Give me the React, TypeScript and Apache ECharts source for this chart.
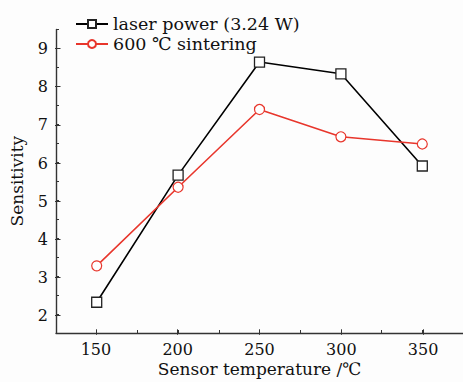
import React, { useEffect, useRef } from "react";
import * as echarts from "echarts";

const temperatures = [150, 200, 250, 300, 350];
const laserPower = [2.31, 5.66, 8.64, 8.33, 5.9];
const sintering600 = [3.27, 5.34, 7.39, 6.67, 6.48];
const seriesNames = ["laser power (3.24 W)", "600 ℃ sintering"];
const xTickLabels = [150, 200, 250, 300, 350];
const yTickLabels = [2, 3, 4, 5, 6, 7, 8, 9];

const FONT = "DejaVu Serif";
const RED = "#e8362c";
const AXIS = "#333";

// outer frame: x 125..375, y 1.5..9.5
const G1 = { left: 55, top: 29.4, width: 409, height: 305.4 };
const PX_X = G1.width / 250;
const PX_Y = G1.height / 8;
// inner frame: x 150..350, y 2..9 (carries the major ticks and labels)
const G2 = {
  left: G1.left + 25 * PX_X,
  top: G1.top + 0.5 * PX_Y,
  width: 200 * PX_X,
  height: 7 * PX_Y,
};

export default function App() {
  const ref = useRef<HTMLDivElement>(null);
  useEffect(() => {
    if (!ref.current) return;
    const chart = echarts.init(ref.current, undefined, { renderer: "svg" });
    const toPairs = (ys: number[]) => temperatures.map((t, i) => [t, ys[i]]);
    chart.setOption({
      animation: false,
      backgroundColor: "#fdfdfd",
      textStyle: { fontFamily: FONT },
      grid: [
        { ...G1, containLabel: false },
        { ...G2, containLabel: false },
      ],
      legend: {
        left: 70,
        top: 9,
        orient: "vertical",
        itemGap: 0,
        itemWidth: 32,
        itemHeight: 10,
        textStyle: { fontFamily: FONT, fontSize: 17.5, color: "#111", lineHeight: 20 },
        data: seriesNames,
      },
      xAxis: [
        {
          type: "value",
          gridIndex: 0,
          min: 125,
          max: 375,
          interval: 25,
          name: "Sensor temperature /℃",
          nameLocation: "middle",
          nameGap: 27,
          nameTextStyle: { fontFamily: FONT, fontSize: 17, color: "#111" },
          axisLine: { lineStyle: { color: AXIS, width: 1.4 } },
          axisTick: { inside: true, length: 3, lineStyle: { color: AXIS } },
          axisLabel: { show: false },
          splitLine: { show: false },
        },
        {
          type: "value",
          gridIndex: 1,
          min: 150,
          max: 350,
          interval: 50,
          position: "bottom",
          offset: G1.top + G1.height - (G2.top + G2.height),
          axisLine: { show: false },
          axisTick: { inside: true, length: 5.5, lineStyle: { color: AXIS } },
          axisLabel: {
            fontFamily: FONT,
            fontSize: 16,
            color: "#111",
            margin: 7,
            formatter: (v: number) => (xTickLabels.includes(v) ? String(v) : ""),
          },
          splitLine: { show: false },
        },
      ],
      yAxis: [
        {
          type: "value",
          gridIndex: 0,
          min: 1.5,
          max: 9.5,
          interval: 0.5,
          name: "Sensitivity",
          nameLocation: "middle",
          nameGap: 31,
          nameRotate: 90,
          nameTextStyle: { fontFamily: FONT, fontSize: 17, color: "#111" },
          axisLine: { show: true, lineStyle: { color: AXIS, width: 1.4 } },
          axisTick: { inside: true, length: 3, lineStyle: { color: AXIS } },
          axisLabel: { show: false },
          splitLine: { show: false },
        },
        {
          type: "value",
          gridIndex: 1,
          min: 2,
          max: 9,
          interval: 1,
          position: "left",
          offset: G2.left - G1.left,
          axisLine: { show: false },
          axisTick: { inside: true, length: 5.5, lineStyle: { color: AXIS } },
          axisLabel: {
            fontFamily: FONT,
            fontSize: 16,
            color: "#111",
            margin: 7,
            formatter: (v: number) => (yTickLabels.includes(v) ? String(v) : ""),
          },
          splitLine: { show: false },
        },
      ],
      series: [
        {
          name: seriesNames[0],
          type: "line",
          xAxisIndex: 0,
          yAxisIndex: 0,
          data: toPairs(laserPower),
          symbol: "rect",
          symbolSize: 10,
          lineStyle: { color: "#000", width: 1.6 },
          itemStyle: { color: "#fff", borderColor: "#222", borderWidth: 1.3 },
          z: 2,
        },
        {
          name: seriesNames[1],
          type: "line",
          xAxisIndex: 0,
          yAxisIndex: 0,
          data: toPairs(sintering600),
          symbol: "circle",
          symbolSize: 10,
          lineStyle: { color: RED, width: 1.6 },
          itemStyle: { color: "#fff", borderColor: RED, borderWidth: 1.2 },
          z: 3,
        },
      ],
    });
    return () => chart.dispose();
  }, []);
  return (
    <div
      ref={ref}
      style={{ position: "fixed", left: 0, top: 0, width: 463, height: 382 }}
    />
  );
}
